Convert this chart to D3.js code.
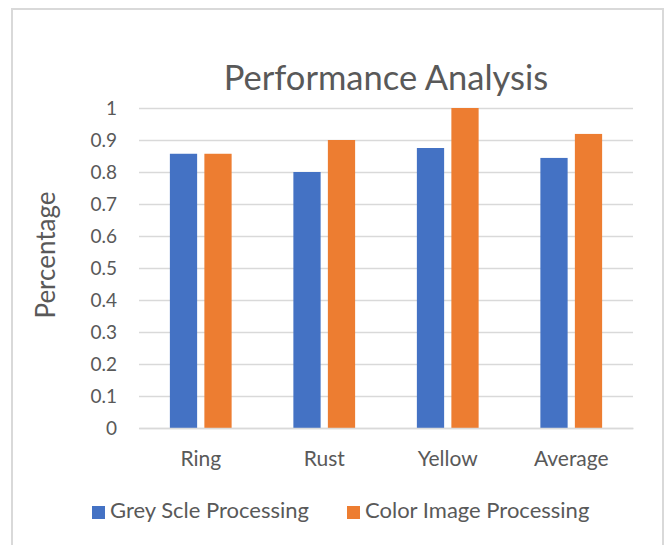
<!DOCTYPE html>
<html>
<head>
<meta charset="utf-8">
<script src="https://cdn.jsdelivr.net/npm/d3@7"></script>
<style>
  body { margin: 0; background: #fff; }
  text { font-family: "Lato", "Open Sans", sans-serif; fill: #595959; }
</style>
</head>
<body>
<script>
// Chart data
const categories = ["Ring", "Rust", "Yellow", "Average"];
const seriesNames = ["Grey Scle Processing", "Color Image Processing"];
const greyScale = [0.857, 0.8, 0.875, 0.844];
const colorImage = [0.857, 0.9, 1.0, 0.919];
const yTickValues = [0, 0.1, 0.2, 0.3, 0.4, 0.5, 0.6, 0.7, 0.8, 0.9, 1];

const width = 667, height = 545;
const colors = ["#4472C4", "#ED7D31"];

const svg = d3.select("body")
    .append("svg")
    .attr("width", width)
    .attr("height", height);

// Chart frame (bottom edge runs off the picture)
svg.append("rect")
    .attr("x", 12)
    .attr("y", 9)
    .attr("width", 651)
    .attr("height", 560)
    .attr("fill", "none")
    .attr("stroke", "#d9d9d9")
    .attr("stroke-width", 2);

// Scales
const x = d3.scaleBand()
    .domain(categories)
    .range([139, 633]);

const xSub = d3.scaleBand()
    .domain(seriesNames)
    .range([x.bandwidth() * 0.25, x.bandwidth() * 0.75])
    .paddingInner(0.21);

const y = d3.scaleLinear()
    .domain([0, 1])
    .range([428, 108]);

// Gridlines + y labels
const yAxis = svg.append("g")
    .attr("transform", "translate(139,0)")
    .call(d3.axisLeft(y)
        .tickValues(yTickValues)
        .tickSize(-(633 - 139))
        .tickPadding(22)
        .tickFormat(d => d3.format("")(+d.toFixed(1))));
yAxis.select(".domain").remove();
yAxis.selectAll(".tick line")
    .attr("stroke", "#d9d9d9")
    .attr("stroke-width", 1.5);
yAxis.selectAll(".tick text")
    .style("font-size", "19px")
    .attr("fill", "#595959");

// Bars
const rows = categories.map((c, i) => ({ cat: c, values: [greyScale[i], colorImage[i]] }));

svg.append("g")
    .selectAll("g")
    .data(rows)
    .join("g")
    .attr("transform", d => `translate(${x(d.cat)},0)`)
    .selectAll("rect")
    .data(d => d.values.map((v, j) => ({ key: seriesNames[j], value: v, color: colors[j] })))
    .join("rect")
    .attr("x", d => xSub(d.key))
    .attr("width", xSub.bandwidth())
    .attr("y", d => y(d.value))
    .attr("height", d => y(0) - y(d.value))
    .attr("fill", d => d.color);

// Category labels
const xAxis = svg.append("g")
    .attr("transform", "translate(0,428)")
    .call(d3.axisBottom(x).tickSize(0).tickPadding(23));
xAxis.select(".domain")
    .attr("stroke", "#d9d9d9")
    .attr("stroke-width", 1.5);
xAxis.selectAll(".tick text")
    .style("font-size", "21px")
    .attr("fill", "#595959");

// Title
svg.append("text")
    .attr("x", 386)
    .attr("y", 90)
    .attr("text-anchor", "middle")
    .style("font-size", "34.5px")
    .text("Performance Analysis");

// Y axis title
svg.append("text")
    .attr("transform", "translate(55,255) rotate(-90)")
    .attr("text-anchor", "middle")
    .style("font-size", "26px")
    .text("Percentage");

// Legend
const legendX = [92, 347];
const legend = svg.append("g")
    .selectAll("g")
    .data(seriesNames)
    .join("g")
    .attr("transform", (d, i) => `translate(${legendX[i]},506)`);
legend.append("rect")
    .attr("width", 13)
    .attr("height", 13)
    .attr("fill", (d, i) => colors[i]);
legend.append("text")
    .attr("x", 18)
    .attr("y", 12)
    .style("font-size", "22px")
    .text(d => d);
</script>
</body>
</html>
